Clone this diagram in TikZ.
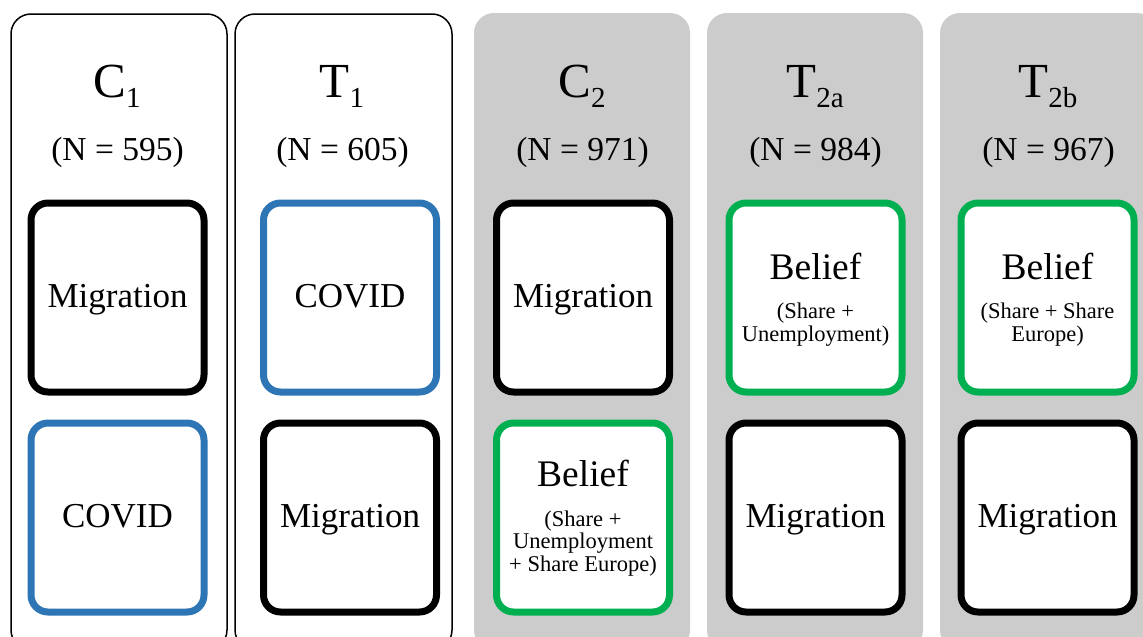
\documentclass[tikz,border=0pt]{standalone}
\usepackage{fontspec}
\setmainfont{Liberation Serif}
\definecolor{panelgray}{HTML}{CCCCCC}
\definecolor{bblue}{HTML}{2E75B6}
\definecolor{bgreen}{HTML}{00B050}
\newcommand{\fs}[1]{\fontsize{#1}{#1}\selectfont}
\newcommand{\ttl}[2]{\fs{49}#1\raisebox{-10pt}{\fs{29}#2}}
\begin{document}
\begin{tikzpicture}[x=1pt,y=-1pt,
  panelw/.style={draw=black, line width=1.5pt, fill=white, rounded corners=20pt},
  panelg/.style={fill=panelgray, rounded corners=20pt},
  box/.style={rectangle, line width=7pt, rounded corners=17pt, fill=white, minimum width=173pt, minimum height=189pt, inner sep=0pt},
  txt/.style={anchor=base, inner sep=0pt},
  big/.style={txt, font=\fs{35}},
  bel/.style={txt, font=\fs{37.5}},
  sm/.style={txt, font=\fs{22.5}},
  nn/.style={txt, font=\fs{33.5}}]
\useasboundingbox (0,0) rectangle (1143,637);
\clip (0,0) rectangle (1143,637);
% panels
\draw[panelw] (11,14) rectangle (227,650);
\draw[panelw] (235,14) rectangle (452,650);
\fill[panelg] (474,13) rectangle (690,650);
\fill[panelg] (707,13) rectangle (923,650);
\fill[panelg] (940,13) rectangle (1157,650);
% titles
\node[txt] (t1) at (117,97) {\ttl{C}{1}};
\node[nn] (n1) at (117.5,160) {(N = 595)};
\node[txt] (t2) at (342,97) {\ttl{T}{1}};
\node[nn] (n2) at (342.5,160) {(N = 605)};
\node[txt] (t3) at (582,97) {\ttl{C}{2}};
\node[nn] (n3) at (582.5,160) {(N = 971)};
\node[txt] (t4) at (815,97) {\ttl{T}{2a}};
\node[nn] (n4) at (815.5,160) {(N = 984)};
\node[txt] (t5) at (1048,97) {\ttl{T}{2b}};
\node[nn] (n5) at (1048.5,160) {(N = 967)};
% boxes
\node[box, draw=black] (b1a) at (117.5,297.5) {};
\node[box, draw=bblue] (b1b) at (117.5,517.5) {};
\node[box, draw=bblue] (b2a) at (350,297.5) {};
\node[box, draw=black] (b2b) at (350,517.5) {};
\node[box, draw=black] (b3a) at (583,297.5) {};
\node[box, draw=bgreen] (b3b) at (583,517.5) {};
\node[box, draw=bgreen] (b4a) at (815.5,297.5) {};
\node[box, draw=black] (b4b) at (815.5,517.5) {};
\node[box, draw=bgreen] (b5a) at (1047.5,297.5) {};
\node[box, draw=black] (b5b) at (1047.5,517.5) {};
% box texts
\node[big] (x1a) at (117.5,307) {Migration};
\node[big] (x1b) at (117.5,527) {COVID};
\node[big] (x2a) at (350,307) {COVID};
\node[big] (x2b) at (350,527) {Migration};
\node[big] (x3a) at (583,307) {Migration};
\node[bel] (x3b) at (583,486) {Belief};
\node[sm] (x3c) at (583,526) {(Share +};
\node[sm] (x3d) at (583,548.5) {Unemployment};
\node[sm] (x3e) at (583,571) {+ Share Europe)};
\node[bel] (x4a) at (815.5,279) {Belief};
\node[sm] (x4c) at (815.5,318) {(Share +};
\node[sm] (x4d) at (815.5,341) {Unemployment)};
\node[big] (x4b) at (815.5,527) {Migration};
\node[bel] (x5a) at (1047.5,279) {Belief};
\node[sm] (x5c) at (1047.5,318) {(Share + Share};
\node[sm] (x5d) at (1047.5,341) {Europe)};
\node[big] (x5b) at (1047.5,527) {Migration};
\end{tikzpicture}
\end{document}
